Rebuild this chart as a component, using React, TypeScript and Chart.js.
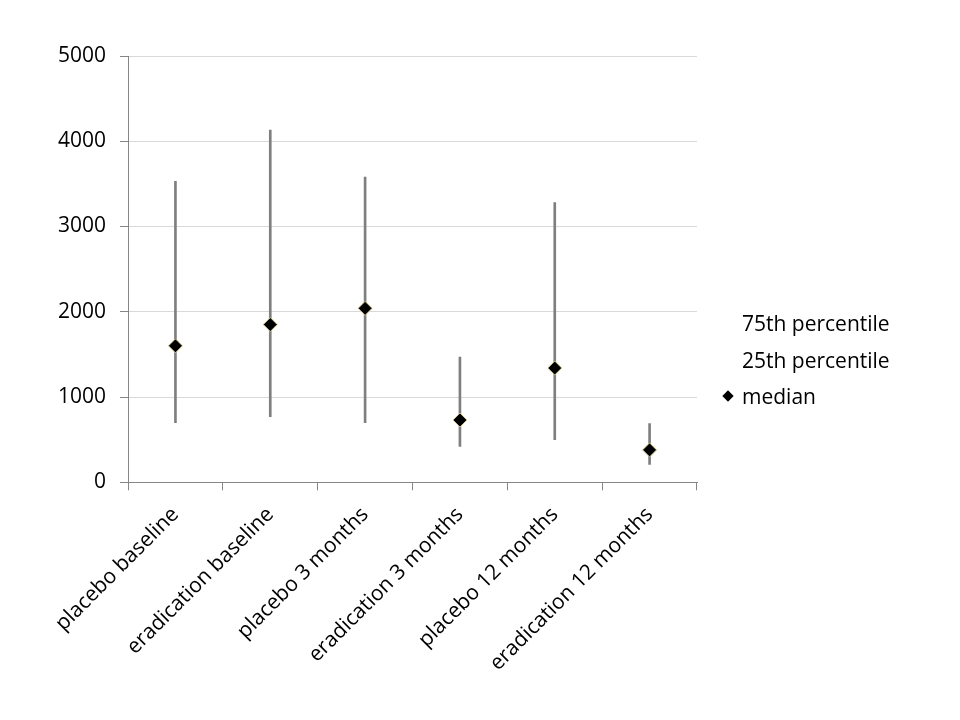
import React, { useEffect, useRef } from "react";
import { Chart, registerables } from "chart.js";

Chart.register(...registerables);

const categories = [
  "placebo baseline",
  "eradication baseline",
  "placebo 3 months",
  "eradication 3 months",
  "placebo 12 months",
  "eradication 12 months",
];
const p75 = [3530, 4130, 3580, 1470, 3280, 690];
const p25 = [700, 770, 700, 420, 500, 210];
const median = [1600, 1850, 2040, 730, 1340, 380];
const yTicks = [0, 1000, 2000, 3000, 4000, 5000];

const FONT = "'Open Sans', sans-serif";

export default function App() {
  const ref = useRef<HTMLCanvasElement | null>(null);

  useEffect(() => {
    document.body.style.margin = "0";
    const ctx = ref.current;
    if (!ctx) return;
    const chart = new Chart(ctx, {
      type: "bar",
      data: {
        labels: categories,
        datasets: [
          {
            type: "bar",
            label: "range",
            data: categories.map((_, i) => [p25[i], p75[i]]) as any,
            backgroundColor: "#7f7f7f",
            barThickness: 2,
            order: 2,
          },
          {
            type: "line",
            label: "75th percentile",
            data: p75,
            showLine: false,
            pointRadius: 0,
            order: 1,
          },
          {
            type: "line",
            label: "25th percentile",
            data: p25,
            showLine: false,
            pointRadius: 0,
            order: 1,
          },
          {
            type: "line",
            label: "median",
            data: median,
            showLine: false,
            pointStyle: "rectRot",
            pointRadius: 7,
            pointBackgroundColor: "#000000",
            pointBorderColor: "rgba(225,215,150,0.9)",
            pointBorderWidth: 1,
            order: 0,
          },
        ],
      },
      options: {
        animation: false,
        responsive: false,
        layout: { padding: { left: 44, right: 263, top: 56, bottom: 32 } },
        plugins: {
          legend: { display: false },
          tooltip: { enabled: false },
        },
        scales: {
          x: {
            offset: true,
            grid: {
              offset: true,
              drawOnChartArea: false,
              drawTicks: true,
              tickLength: 8,
              color: "#868686",
            },
            border: { color: "#868686" },
            ticks: {
              color: "#000000",
              font: { family: FONT, size: 21 },
              minRotation: 45,
              maxRotation: 45,
              autoSkip: false,
              padding: 12,
            },
          },
          y: {
            min: 0,
            max: 5000,
            afterBuildTicks: (axis: any) => {
              axis.ticks = yTicks.map((v) => ({ value: v }));
            },
            grid: {
              color: "#d9d9d9",
              tickColor: "#868686",
              tickLength: 8,
            },
            border: { color: "#868686" },
            ticks: {
              color: "#000000",
              font: { family: FONT, size: 21 },
              padding: 14,
              callback: (v: any) => String(v),
            },
          },
        },
      },
    });
    return () => chart.destroy();
  }, []);

  const legendItems = ["75th percentile", "25th percentile", "median"];

  return (
    <div style={{ position: "relative", width: 960, height: 720, background: "#fff" }}>
      <canvas ref={ref} width={960} height={720} style={{ display: "block" }} />
      <div style={{ position: "absolute", left: 742, top: 305, fontFamily: FONT, fontSize: 21, color: "#000" }}>
        {legendItems.map((t, i) => (
          <div key={t} style={{ height: 36.5, lineHeight: "36.5px", position: "relative", whiteSpace: "nowrap" }}>
            {i === 2 && (
              <span
                style={{
                  position: "absolute",
                  left: -18,
                  top: 14,
                  width: 8,
                  height: 8,
                  background: "#000",
                  transform: "rotate(45deg)",
                }}
              />
            )}
            {t}
          </div>
        ))}
      </div>
    </div>
  );
}
